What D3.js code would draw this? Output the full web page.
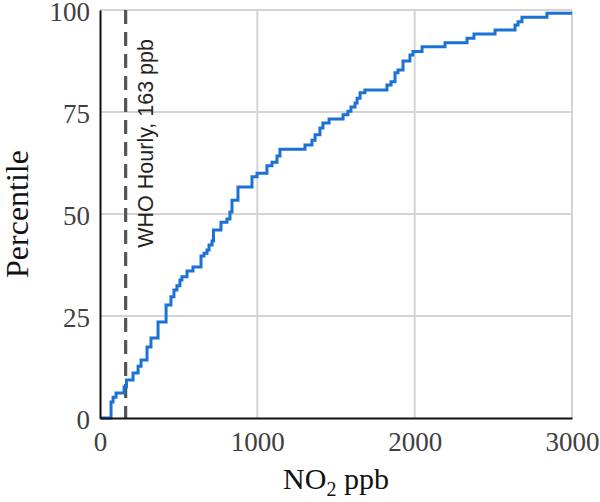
<!DOCTYPE html>
<html>
<head>
<meta charset="utf-8">
<script src="https://cdn.jsdelivr.net/npm/d3@7"></script>
<style>
  body { margin: 0; background: #fff; }
  svg { display: block; }
</style>
</head>
<body>
<svg id="chart" width="600" height="502"></svg>
<script>
// step points of the cumulative distribution: NO2 (ppb) where the step happens, percentile after it
var no2 = [0, 70, 83, 102, 153, 168, 210, 242, 261, 299, 324, 369, 420, 451, 470, 489, 508, 521, 553, 591,
  642, 661, 680, 693, 712, 721, 769, 807, 826, 839, 877, 966, 998, 1061, 1093, 1125, 1144, 1303, 1347, 1367,
  1398, 1417, 1456, 1545, 1576, 1595, 1621, 1634, 1653, 1684, 1824, 1850, 1875, 1894, 1926, 1970, 1989, 2047,
  2193, 2333, 2377, 2511, 2638, 2657, 2682, 2841, 3000];
var pct = [0, 3.9, 5.1, 6.1, 7.6, 9.3, 11.0, 12.7, 14.2, 17.4, 19.6, 23.5, 27.7, 29.7, 31.4, 32.4, 33.8, 34.6, 36.0, 37.0,
  39.7, 40.4, 41.2, 42.4, 43.4, 46.1, 48.0, 48.8, 50.5, 53.4, 56.6, 59.1, 60.0, 61.8, 62.7, 64.2, 65.9, 66.9, 68.1, 69.4,
  71.1, 72.3, 73.3, 74.3, 75.2, 76.2, 77.2, 78.4, 79.7, 80.4, 81.6, 82.4, 84.6, 85.3, 87.5, 89.0, 89.8, 91.0,
  92.0, 93.1, 94.1, 95.1, 96.3, 97.1, 98.2, 99.2, 99.2];

var xTicks = [0, 1000, 2000, 3000];
var yTicks = [0, 25, 50, 75, 100];
var whoLimit = 163;
var whoLabel = "WHO Hourly, 163 ppb";

var svg = d3.select("#chart");
var margin = {top: 10, right: 28, bottom: 84, left: 100};
var width = 600 - margin.left - margin.right;
var height = 502 - margin.top - margin.bottom;

var g = svg.append("g").attr("transform", "translate(" + margin.left + "," + margin.top + ")");

var x = d3.scaleLinear().domain([0, 3000]).range([0, width]);
var y = d3.scaleLinear().domain([0, 100]).range([height, 0]);

// grid
g.append("g").selectAll("line.vgrid")
  .data(xTicks.slice(1))
  .enter().append("line")
    .attr("x1", function(d){ return x(d); })
    .attr("x2", function(d){ return x(d); })
    .attr("y1", 0).attr("y2", height)
    .attr("stroke", "#d4d4d4").attr("stroke-width", 2);

g.append("g").selectAll("line.hgrid")
  .data(yTicks.slice(1))
  .enter().append("line")
    .attr("x1", 0).attr("x2", width)
    .attr("y1", function(d){ return y(d); })
    .attr("y2", function(d){ return y(d); })
    .attr("stroke", "#d4d4d4").attr("stroke-width", 2);

// WHO guideline
g.append("line")
  .attr("x1", x(whoLimit)).attr("x2", x(whoLimit))
  .attr("y1", 0).attr("y2", height)
  .attr("stroke", "#555").attr("stroke-width", 3.2)
  .attr("stroke-dasharray", "14,8");

g.append("text")
  .attr("transform", "translate(" + (x(whoLimit) + 27) + ",17) rotate(-90)")
  .attr("dx", "-12")
  .attr("text-anchor", "end")
  .style("font-family", "'Liberation Sans', Arial, sans-serif")
  .style("font-size", "21.5px")
  .attr("fill", "#222")
  .text(whoLabel);

// cdf line
var pts = no2.map(function(d, i){ return [d, pct[i]]; });
var line = d3.line()
  .x(function(d){ return x(d[0]); })
  .y(function(d){ return y(d[1]); })
  .curve(d3.curveStepAfter);

g.append("path")
  .datum(pts)
  .attr("fill", "none")
  .attr("stroke", "#1b72d3")
  .attr("stroke-width", 3)
  .attr("d", line);

// axes
var xAxis = g.append("g")
  .attr("transform", "translate(0," + height + ")")
  .call(d3.axisBottom(x).tickValues(xTicks).tickSize(0).tickPadding(14).tickFormat(d3.format("d")));
var yAxis = g.append("g")
  .call(d3.axisLeft(y).tickValues(yTicks).tickSize(0).tickPadding(10));

[xAxis, yAxis].forEach(function(a){
  a.select(".domain").attr("stroke", "#111").attr("stroke-width", 2);
  a.selectAll("text")
    .style("font-family", "'Liberation Serif', 'Times New Roman', serif")
    .style("font-size", "27px")
    .attr("fill", "#404040");
});
yAxis.selectAll("text").attr("dy", "0.4em");

// axis titles
var xt = svg.append("text")
  .attr("x", margin.left + width / 2)
  .attr("y", 489)
  .attr("text-anchor", "middle")
  .style("font-family", "'Liberation Serif', 'Times New Roman', serif")
  .style("font-size", "30px")
  .attr("fill", "#111");
xt.append("tspan").text("NO");
xt.append("tspan").attr("dy", 7).style("font-size", "20px").text("2");
xt.append("tspan").attr("dy", -7).text(" ppb");

svg.append("text")
  .attr("transform", "translate(28," + (margin.top + height / 2) + ") rotate(-90)")
  .attr("text-anchor", "middle")
  .style("font-family", "'Liberation Serif', 'Times New Roman', serif")
  .style("font-size", "32px")
  .attr("fill", "#111")
  .text("Percentile");
</script>
</body>
</html>
